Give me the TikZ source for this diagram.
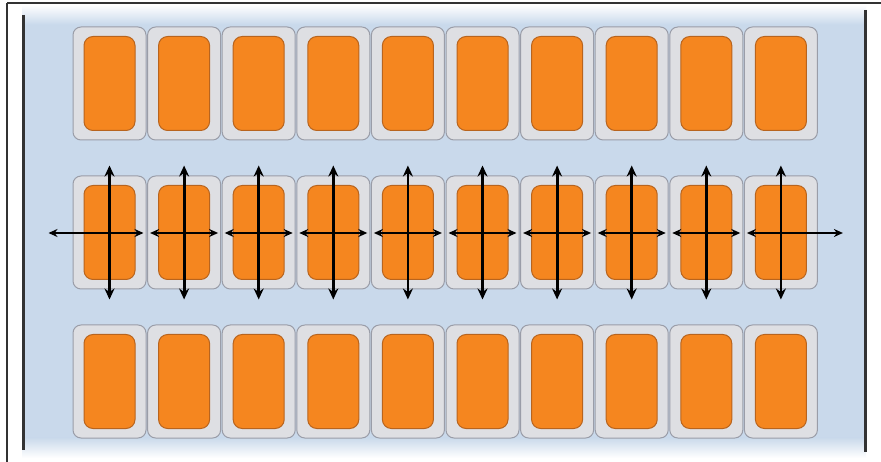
\documentclass[tikz,border=0pt]{standalone}
\usetikzlibrary{arrows.meta,calc}
\definecolor{panel}{HTML}{C9D9EB}
\definecolor{cellfill}{HTML}{DEDFE3}
\definecolor{celledge}{HTML}{9A9DA8}
\definecolor{orangefill}{HTML}{F5861F}
\definecolor{orangeedge}{HTML}{B8641E}
\definecolor{darkline}{HTML}{333333}
\tikzset{
  cellbox/.style={draw=celledge, fill=cellfill, line width=1pt, rounded corners=8pt,
    minimum width=73pt, minimum height=113pt, inner sep=0pt},
  orangebox/.style={draw=orangeedge, fill=orangefill, line width=1pt, rounded corners=9pt,
    minimum width=51pt, minimum height=94pt, inner sep=0pt},
  varrow/.style={line width=2.8pt, black, {Stealth[length=11pt,width=10pt]}-{Stealth[length=11pt,width=10pt]}},
  harrow/.style={line width=1.5pt, black, {Stealth[length=9pt,width=8pt]}-{Stealth[length=9pt,width=8pt]}}
}
\begin{document}
\begin{tikzpicture}[x=1pt,y=-1pt]
\useasboundingbox (0,0) rectangle (881,462);
\fill[white] (0,0) rectangle (881,462);
% panel
\fill[panel] (22,24) rectangle (866,438);
\shade[top color=white, bottom color=panel] (22,5) rectangle (866,24.5);
\shade[top color=panel, bottom color=white] (22,437.5) rectangle (866,458);
% frame lines
\draw[line width=1.2pt, darkline] (7,3) -- (881,3);
\draw[line width=1.2pt, darkline] (7,3) -- (7,462);
\draw[line width=3pt, darkline] (23.5,15) -- (23.5,450);
\draw[line width=3pt, darkline] (865,10) -- (865,452);
% cells
\foreach \r/\y in {1/83.5,2/232.5,3/381.5}{
  \foreach \i in {0,...,9}{
    \node[cellbox] (c-\r-\i) at ({109.5+74.6*\i},\y) {};
    \node[orangebox] (o-\r-\i) at ({109.5+74.6*\i},\y) {};
  }
}
% arrows in middle row
\foreach \i in {0,...,9}{
  \coordinate (vt-\i) at ($(c-2-\i.north)+(0,-10)$);
  \coordinate (vb-\i) at ($(c-2-\i.south)+(0,10)$);
  \coordinate (hl-\i) at ($(c-2-\i.center)+(-34,0.5)$);
  \coordinate (hr-\i) at ($(c-2-\i.center)+(34,0.5)$);
}
\coordinate (hl-0) at ($(c-2-0.center)+(-61,0.5)$);
\coordinate (hr-9) at ($(c-2-9.center)+(62,0.5)$);
\foreach \i in {0,...,9}{
  \draw[harrow] (hl-\i) -- (hr-\i);
  \draw[varrow] (vt-\i) -- (vb-\i);
}
\end{tikzpicture}
\end{document}
